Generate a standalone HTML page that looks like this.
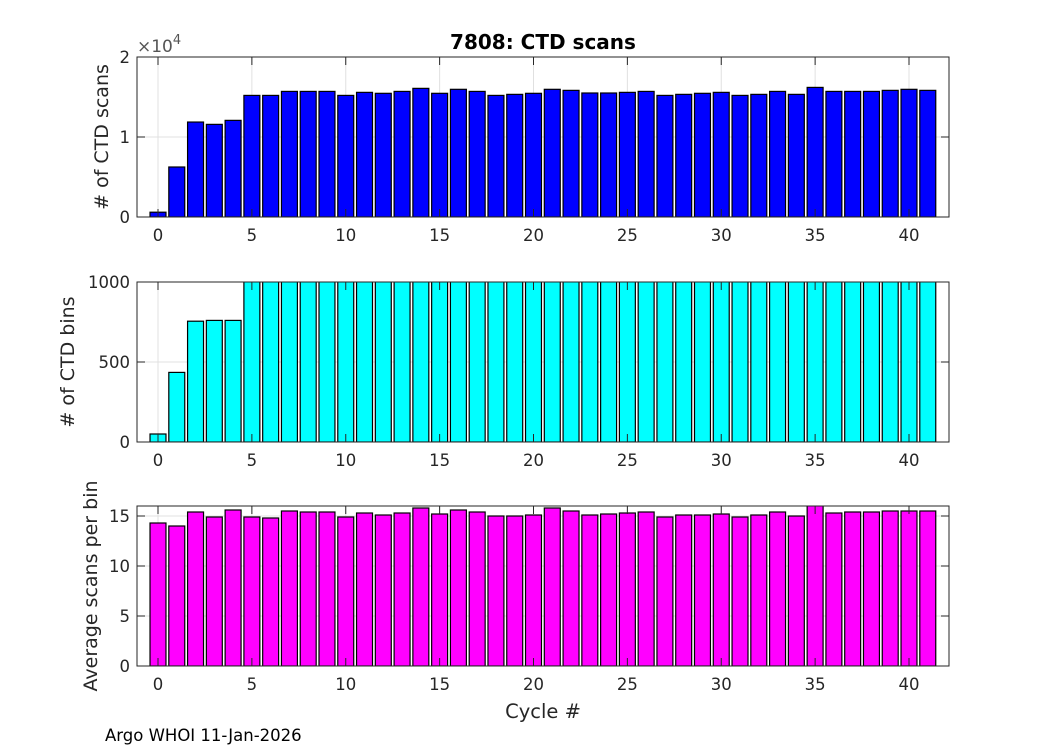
<!DOCTYPE html>
<html><head><meta charset="utf-8"><style>
body{margin:0;background:#fff;}
svg{display:block;font-family:"DejaVu Sans","Liberation Sans",sans-serif;}
</style></head><body>
<svg id="fig" width="1050" height="750"></svg>
<script>
const cycles = Array.from({length:42},(_,i)=>i);
const scans = [600,6250,11870,11580,12080,15200,15200,15700,15700,15700,15200,15580,15460,15700,16080,15460,15960,15700,15200,15330,15460,15960,15830,15500,15500,15580,15700,15200,15330,15460,15580,15200,15330,15700,15330,16200,15700,15700,15700,15830,15960,15830];
const bins = [50,435,755,760,760,1020,1020,1020,1020,1020,1020,1020,1020,1020,1020,1020,1020,1020,1020,1020,1020,1020,1020,1020,1020,1020,1020,1020,1020,1020,1020,1020,1020,1020,1020,1020,1020,1020,1020,1020,1020,1020];
const avg = [14.3,14.0,15.4,14.9,15.6,14.9,14.8,15.5,15.4,15.4,14.9,15.3,15.1,15.3,15.8,15.2,15.6,15.4,15.0,15.0,15.1,15.8,15.5,15.1,15.2,15.3,15.4,14.9,15.1,15.1,15.2,14.9,15.1,15.4,15.0,16.2,15.3,15.4,15.4,15.5,15.5,15.5];
const xTicks = [0,5,10,15,20,25,30,35,40];
const NS='http://www.w3.org/2000/svg';
const svg=document.getElementById('fig');
function mk(t,a,p){const e=document.createElementNS(NS,t);for(const k in a)e.setAttribute(k,a[k]);(p||svg).appendChild(e);return e;}
const L=137,R=949;
const xs=v=>158+(v)*(909-158)/40;
const panels=[
 {name:'scans',top:57,bot:217,ymax:20000,vals:scans,color:'#0000ff',yt:[0,10000,20000],yl:['0','1','2'],label:'# of CTD scans'},
 {name:'bins',top:282,bot:442,ymax:1000,vals:bins,color:'#00ffff',yt:[0,500,1000],yl:['0','500','1000'],label:'# of CTD bins'},
 {name:'avg',top:506,bot:666,ymax:16,vals:avg,color:'#ff00ff',yt:[0,5,10,15],yl:['0','5','10','15'],label:'Average scans per bin'}
];
panels.forEach(p=>{
 const g=mk('g',{});
 
 
 const ys=v=>p.bot-v/p.ymax*(p.bot-p.top);
 const cp=mk('clipPath',{id:'c'+p.name},g);mk('rect',{x:L,y:p.top,width:R-L,height:p.bot-p.top},cp);
 xTicks.forEach(t=>{mk('line',{x1:xs(t),x2:xs(t),y1:p.top,y2:p.bot,stroke:'#e0e0e0','stroke-width':1},g);});
 p.yt.forEach(t=>{mk('line',{x1:L,x2:R,y1:ys(t),y2:ys(t),stroke:'#e0e0e0','stroke-width':1},g);});
 const bg=mk('g',{'clip-path':'url(#c'+p.name+')'},g);
 cycles.forEach((c,i)=>{
  const w=0.85*(909-158)/40;
  const r=mk('rect',{x:xs(c)-w/2,y:ys(p.vals[i]),width:w,height:p.bot-ys(p.vals[i]),fill:p.color,stroke:'#000','stroke-width':1.2},bg);
  
  
 });
 mk('rect',{x:L,y:p.top,width:R-L,height:p.bot-p.top,fill:'none',stroke:'#262626','stroke-width':1},g);
 xTicks.forEach(t=>{
  mk('line',{x1:xs(t),x2:xs(t),y1:p.bot,y2:p.bot-8,stroke:'#262626'},g);
  mk('line',{x1:xs(t),x2:xs(t),y1:p.top,y2:p.top+8,stroke:'#262626'},g);
  const tx=mk('text',{x:xs(t),y:p.bot+24,'text-anchor':'middle','font-size':16.5,fill:'#262626'},g);tx.textContent=t;
  
 });
 p.yt.forEach((t,i)=>{
  mk('line',{x1:L,x2:L+8,y1:ys(t),y2:ys(t),stroke:'#262626'},g);
  mk('line',{x1:R,x2:R-8,y1:ys(t),y2:ys(t),stroke:'#262626'},g);
  const tx=mk('text',{x:L-7,y:ys(t)+6,'text-anchor':'end','font-size':16.5,fill:'#262626'},g);tx.textContent=p.yl[i];
  
 });
 const yl=mk('text',{transform:`translate(${p.name==='scans'?108:p.name==='bins'?74:97},${(p.top+p.bot)/2}) rotate(-90)`,'text-anchor':'middle','font-size':19,fill:'#262626'},g);
 yl.textContent=p.label;
 
});
</script>
<svg style="position:absolute;left:0;top:0" width="1050" height="750">
<text x="543" y="49" text-anchor="middle" font-size="20" font-weight="bold" fill="#000" font-family="DejaVu Sans,sans-serif">7808: CTD scans</text>
<text x="137" y="52" font-size="17" fill="#555" font-family="DejaVu Sans,sans-serif">×10<tspan dy="-8" font-size="13">4</tspan></text>
<text x="543" y="718" text-anchor="middle" font-size="19.5" fill="#262626" font-family="DejaVu Sans,sans-serif">Cycle #</text>
<text x="105" y="741" font-size="16.5" fill="#000" font-family="DejaVu Sans,sans-serif">Argo WHOI 11-Jan-2026</text>
</svg>
</body></html>
